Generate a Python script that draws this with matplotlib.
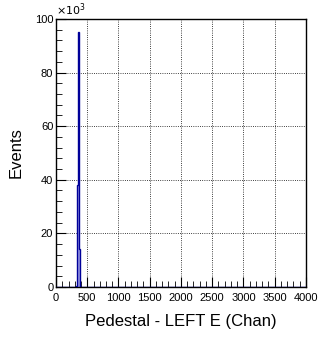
import numpy as np
import matplotlib
matplotlib.use("Agg")
import matplotlib.pyplot as plt
from matplotlib.ticker import MultipleLocator

# histogram contents (channels, counts)
bin_edges = [0, 312, 328, 344, 360, 376, 4000]
counts = [0, 500, 38000, 95000, 14000, 0]

plt.rcParams['font.family'] = ['Liberation Sans', 'DejaVu Sans']

fig = plt.figure(figsize=(3.22, 3.38), dpi=100)
ax = fig.add_axes([0.174, 0.151, 0.776, 0.793])

c = np.array(counts) / 1000.0
ax.stairs(c, bin_edges, fill=True, color='#9999e6', zorder=2)
ax.stairs(c, bin_edges, color='#000099', lw=1.0, zorder=3)

ax.set_xlim(0, 4000)
ax.set_ylim(0, 100)
ax.xaxis.set_major_locator(MultipleLocator(500))
ax.xaxis.set_minor_locator(MultipleLocator(100))
ax.yaxis.set_major_locator(MultipleLocator(20))
ax.yaxis.set_minor_locator(MultipleLocator(4))
ax.tick_params(which='both', direction='in', top=False, right=False, labelsize=8)
ax.tick_params(axis='x', pad=4)
ax.tick_params(axis='y', pad=2)
ax.tick_params(which='major', length=7)
ax.tick_params(which='minor', length=4)
ax.grid(True, which='major', color='black', linestyle=':', lw=0.6)
ax.set_axisbelow(True)

ax.set_xlabel('Pedestal - LEFT E (Chan)', fontsize=12, labelpad=8)
ax.set_ylabel('Events', fontsize=12, labelpad=8)
ax.text(0.0, 1.005, r'$\times10^{3}$', transform=ax.transAxes, fontsize=8, va='bottom', ha='left')

for s in ax.spines.values():
    s.set_linewidth(1.0)

fig.savefig('out.png', dpi=100)
